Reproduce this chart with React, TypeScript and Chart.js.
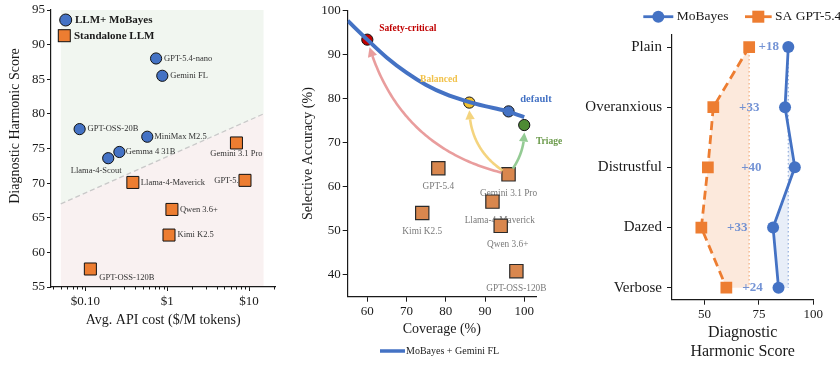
import React, { useEffect, useRef } from "react";
import { Chart, registerables } from "chart.js";

Chart.register(...registerables);

const SERIF = "'Liberation Serif', 'Times New Roman', Times, serif";
Chart.defaults.font.family = SERIF;
Chart.defaults.color = "#1a1a1a";

const BLUE = "#4472C4";
const ORANGE = "#ED7D31";
const INK = "#1a1a1a";

// ---------------- Panel 1 data: cost vs diagnostic harmonic score ----------------
const moModels = ["GPT-5.4-nano", "Gemini FL", "GPT-OSS-20B", "MiniMax M2.5", "Gemma 4 31B", "Llama-4-Scout"];
const moCost = [0.73, 0.87, 0.085, 0.57, 0.26, 0.19];
const moScore = [88.0, 85.5, 77.8, 76.7, 74.5, 73.6];

const saModels = ["Gemini 3.1 Pro", "GPT-5.4", "Llama-4-Maverick", "Qwen 3.6+", "Kimi K2.5", "GPT-OSS-120B"];
const saCost = [7.0, 8.9, 0.38, 1.14, 1.05, 0.115];
const saScore = [75.8, 70.4, 70.1, 66.2, 62.5, 57.6];

const costTicks = [0.1, 1, 10];
const costTickLabels = ["$0.10", "$1", "$10"];
const costMinorTicks = [0.04, 0.05, 0.06, 0.07, 0.08, 0.09, 0.2, 0.3, 0.4, 0.5, 0.6, 0.7, 0.8, 0.9, 2, 3, 4, 5, 6, 7, 8, 9, 20];
const scoreTicks1 = [55, 60, 65, 70, 75, 80, 85, 90, 95];
const frontierCost = [0.05, 15];
const frontierScore = [67, 80];

// label placement (layout only): dx, dy, align
const moLabelPos: [number, number, CanvasTextAlign][] = [
  [8, 0, "left"], [8, 0, "left"], [8, 0, "left"], [7, 0, "left"], [6.5, 0, "left"], [-12, 13, "center"],
];
const saLabelPos: [number, number, CanvasTextAlign][] = [
  [0, 11, "center"], [-2, 0, "right"], [8, 0, "left"], [8, 0, "left"], [8.5, 0, "left"], [9, 9, "left"],
];

// ---------------- Panel 2 data: coverage vs selective accuracy ----------------
const curveCoverage = [55, 60, 65, 70, 75, 80, 85, 90, 95, 100];
const curveAccuracy = [97.7, 93.4, 89.3, 85.9, 83.1, 81.0, 79.5, 78.3, 77.3, 75.8];

const opNames = ["Safety-critical", "Balanced", "default", "Triage"];
const opCoverage = [60, 86, 96, 100];
const opAccuracy = [93.4, 79.1, 77.1, 74.0];
const opColors = ["#C00000", "#F2C12E", "#4472C4", "#4E8B34"];
const opTextColors = ["#C00000", "#F2C24A", "#4472C4", "#6A9A4A"];
const opLabelPos: [number, number, CanvasTextAlign][] = [
  [12, -11.6, "left"], [-30.5, -23.3, "center"], [11.7, -11.7, "left"], [11.7, 16.7, "left"],
];

const sa2Models = ["GPT-5.4", "Gemini 3.1 Pro", "Llama-4-Maverick", "Kimi K2.5", "Qwen 3.6+", "GPT-OSS-120B"];
const sa2Coverage = [78.1, 96.0, 91.9, 74.0, 94.0, 98.0];
const sa2Accuracy = [64.2, 62.8, 56.6, 54.0, 51.1, 40.8];
const sa2LabelPos: [number, number][] = [[0, 18], [0, 19], [7.3, 19], [0, 18.4], [7, 18.3], [0, 17.3]];

const covTicks = [60, 70, 80, 90, 100];
const accTicks = [40, 50, 60, 70, 80, 90, 100];
// arrows from the standalone Gemini 3.1 Pro to each operating point (except default)
const arrowTargets = [0, 1, 3];
const arrowColors = ["rgba(232,152,152,0.95)", "rgba(243,210,120,0.95)", "rgba(142,200,142,0.95)"];
const arrowRad = [0.3, 0.3, -0.2];

// ---------------- Panel 3 data: persona robustness ----------------
const personas = ["Plain", "Overanxious", "Distrustful", "Dazed", "Verbose"];
const moPersona = [88.5, 87.0, 91.5, 81.5, 84.0];
const saPersona = [70.5, 54.0, 51.5, 48.5, 60.0];
const gainLabels = ["+18", "+33", "+40", "+33", "+24"];
const harmTicks = [50, 75, 100];

// ---------------- helpers ----------------
function font(size: number, weight = "normal") {
  return `${weight} ${size}px ${SERIF}`;
}

const panel1Plugin = {
  id: "panel1",
  beforeDraw(chart: any) {
    const { ctx, scales } = chart;
    const x = scales.x, y = scales.y;
    const x0 = x.getPixelForValue(frontierCost[0]);
    const x1 = x.getPixelForValue(frontierCost[1]);
    const yTop = y.getPixelForValue(95);
    const yBot = y.getPixelForValue(55);
    const ya = y.getPixelForValue(frontierScore[0]);
    const yb = y.getPixelForValue(frontierScore[1]);
    ctx.save();
    ctx.fillStyle = "#f1f6f0";
    ctx.beginPath();
    ctx.moveTo(x0, yTop); ctx.lineTo(x1, yTop); ctx.lineTo(x1, yb); ctx.lineTo(x0, ya); ctx.closePath();
    ctx.fill();
    ctx.fillStyle = "#f9f1f1";
    ctx.beginPath();
    ctx.moveTo(x0, ya); ctx.lineTo(x1, yb); ctx.lineTo(x1, yBot); ctx.lineTo(x0, yBot); ctx.closePath();
    ctx.fill();
    ctx.setLineDash([5, 3]);
    ctx.strokeStyle = "#c9c9c9";
    ctx.lineWidth = 1.3;
    ctx.beginPath();
    ctx.moveTo(x0, ya); ctx.lineTo(x1, yb);
    ctx.stroke();
    ctx.restore();
  },
  beforeDatasetsDraw(chart: any) {
    const { ctx, scales } = chart;
    const x = scales.x, y = scales.y;
    ctx.save();
    ctx.font = font(8.5);
    ctx.fillStyle = "#333";
    ctx.textBaseline = "middle";
    moModels.forEach((name, i) => {
      const [dx, dy, al] = moLabelPos[i];
      ctx.textAlign = al;
      ctx.fillText(name, x.getPixelForValue(moCost[i]) + dx, y.getPixelForValue(moScore[i]) + dy);
    });
    saModels.forEach((name, i) => {
      const [dx, dy, al] = saLabelPos[i];
      ctx.textAlign = al;
      ctx.fillText(name, x.getPixelForValue(saCost[i]) + dx, y.getPixelForValue(saScore[i]) + dy);
    });
    ctx.restore();
  },
  afterDraw(chart: any) {
    const { ctx, scales, chartArea } = chart;
    const x = scales.x;
    ctx.save();
    // minor ticks of the log axis
    ctx.strokeStyle = INK;
    ctx.lineWidth = 1;
    costMinorTicks.forEach((v) => {
      const px = Math.round(x.getPixelForValue(v)) + 0.5;
      ctx.beginPath();
      ctx.moveTo(px, chartArea.bottom);
      ctx.lineTo(px, chartArea.bottom + 2.5);
      ctx.stroke();
    });
    // legend
    ctx.fillStyle = BLUE;
    ctx.strokeStyle = "#111";
    ctx.beginPath();
    ctx.arc(65.7, 20, 6, 0, Math.PI * 2);
    ctx.fill();
    ctx.stroke();
    ctx.fillStyle = ORANGE;
    ctx.fillRect(58.3, 29.7, 12, 12);
    ctx.strokeRect(58.3, 29.7, 12, 12);
    ctx.fillStyle = INK;
    ctx.font = font(11, "bold");
    ctx.textAlign = "left";
    ctx.textBaseline = "middle";
    ctx.fillText("LLM+ MoBayes", 75, 20);
    ctx.fillText("Standalone LLM", 74, 35.7);
    // y title
    ctx.translate(15, 126);
    ctx.rotate(-Math.PI / 2);
    ctx.font = font(14);
    ctx.textAlign = "center";
    ctx.fillText("Diagnostic Harmonic Score", 0, 0);
    ctx.restore();
  },
};

function drawCurvedArrow(ctx: CanvasRenderingContext2D, sx: number, sy: number, ex: number, ey: number,
  rad: number, color: string, shrinkA: number, shrinkB: number) {
  const mx = (sx + ex) / 2, my = (sy + ey) / 2;
  const dx = ex - sx, dy = ey - sy;
  const cx = mx + rad * dy, cy = my - rad * dx;
  const B = (t: number) => {
    const u = 1 - t;
    return [u * u * sx + 2 * u * t * cx + t * t * ex, u * u * sy + 2 * u * t * cy + t * t * ey];
  };
  const N = 400;
  let t0 = 0, t1 = 1;
  for (let i = 0; i <= N; i++) {
    const t = i / N; const [px, py] = B(t);
    if (Math.hypot(px - sx, py - sy) >= shrinkA) { t0 = t; break; }
  }
  for (let i = N; i >= 0; i--) {
    const t = i / N; const [px, py] = B(t);
    if (Math.hypot(px - ex, py - ey) >= shrinkB) { t1 = t; break; }
  }
  const [tipX, tipY] = B(t1);
  const headLen = 9, headHalf = 4.6;
  // find t where distance from tip equals head length
  let tb = t1;
  for (let i = Math.round(t1 * N); i >= 0; i--) {
    const t = i / N; const [px, py] = B(t);
    if (Math.hypot(px - tipX, py - tipY) >= headLen) { tb = t; break; }
  }
  const [bx, by] = B(tb);
  ctx.save();
  ctx.strokeStyle = color;
  ctx.fillStyle = color;
  ctx.lineWidth = 2.6;
  ctx.lineCap = "butt";
  ctx.beginPath();
  for (let i = 0; i <= 80; i++) {
    const t = t0 + (tb - t0) * (i / 80);
    const [px, py] = B(t);
    if (i === 0) ctx.moveTo(px, py); else ctx.lineTo(px, py);
  }
  ctx.stroke();
  const ux = (tipX - bx) / headLen, uy = (tipY - by) / headLen;
  ctx.beginPath();
  ctx.moveTo(tipX, tipY);
  ctx.lineTo(bx - uy * headHalf, by + ux * headHalf);
  ctx.lineTo(bx + uy * headHalf, by - ux * headHalf);
  ctx.closePath();
  ctx.fill();
  ctx.restore();
}

const panel2Plugin = {
  id: "panel2",
  beforeDatasetsDraw(chart: any) {
    const { ctx, scales } = chart;
    const x = scales.x, y = scales.y;
    ctx.save();
    ctx.font = font(9.3);
    ctx.fillStyle = "#7a7a7a";
    ctx.textAlign = "center";
    ctx.textBaseline = "middle";
    sa2Models.forEach((name, i) => {
      const [dx, dy] = sa2LabelPos[i];
      ctx.fillText(name, x.getPixelForValue(sa2Coverage[i]) + dx, y.getPixelForValue(sa2Accuracy[i]) + dy);
    });
    ctx.restore();
  },
  afterDatasetDraw(chart: any, args: any) {
    if (args.index !== 0) return;
    const { ctx, scales } = chart;
    const x = scales.x, y = scales.y;
    const src = sa2Models.indexOf("Gemini 3.1 Pro");
    const sx = x.getPixelForValue(sa2Coverage[src]);
    const sy = y.getPixelForValue(sa2Accuracy[src]);
    arrowTargets.forEach((k, j) => {
      const ex = x.getPixelForValue(opCoverage[k]);
      const ey = y.getPixelForValue(opAccuracy[k]);
      drawCurvedArrow(ctx, sx, sy, ex, ey, arrowRad[j], arrowColors[j], 7, 7.5);
    });
  },
  afterDraw(chart: any) {
    const { ctx, scales } = chart;
    const x = scales.x, y = scales.y;
    ctx.save();
    ctx.textBaseline = "middle";
    opNames.forEach((name, i) => {
      const [dx, dy, al] = opLabelPos[i];
      ctx.font = font(i === 2 ? 10.5 : 9.5, "bold");
      ctx.fillStyle = opTextColors[i];
      ctx.textAlign = al;
      ctx.fillText(name, x.getPixelForValue(opCoverage[i]) + dx, y.getPixelForValue(opAccuracy[i]) + dy);
    });
    // legend
    ctx.strokeStyle = BLUE;
    ctx.lineWidth = 3.5;
    ctx.beginPath();
    ctx.moveTo(95, 351);
    ctx.lineTo(120, 351);
    ctx.stroke();
    ctx.fillStyle = INK;
    ctx.font = font(10);
    ctx.textAlign = "left";
    ctx.fillText("MoBayes + Gemini FL", 121, 351);
    ctx.restore();
  },
};

const panel3Plugin = {
  id: "panel3",
  beforeDatasetsDraw(chart: any) {
    const { ctx, scales } = chart;
    const x = scales.x, y = scales.y;
    const fillBetween = (vals: number[], base: number, color: string) => {
      ctx.beginPath();
      vals.forEach((v, i) => {
        const px = x.getPixelForValue(v), py = y.getPixelForValue(i);
        if (i === 0) ctx.moveTo(px, py); else ctx.lineTo(px, py);
      });
      ctx.lineTo(x.getPixelForValue(base), y.getPixelForValue(vals.length - 1));
      ctx.lineTo(x.getPixelForValue(base), y.getPixelForValue(0));
      ctx.closePath();
      ctx.fillStyle = color;
      ctx.fill();
    };
    const dotted = (base: number, color: string) => {
      const px = x.getPixelForValue(base);
      ctx.beginPath();
      ctx.setLineDash([1.5, 2.5]);
      ctx.strokeStyle = color;
      ctx.lineWidth = 1.3;
      ctx.moveTo(px, y.getPixelForValue(0));
      ctx.lineTo(px, y.getPixelForValue(personas.length - 1));
      ctx.stroke();
      ctx.setLineDash([]);
    };
    ctx.save();
    fillBetween(saPersona, saPersona[0], "rgba(237,125,49,0.17)");
    fillBetween(moPersona, moPersona[0], "rgba(68,114,196,0.12)");
    dotted(saPersona[0], "rgba(237,125,49,0.55)");
    dotted(moPersona[0], "rgba(68,114,196,0.5)");
    ctx.restore();
  },
  afterDatasetsDraw(chart: any) {
    const { ctx, scales } = chart;
    const x = scales.x, y = scales.y;
    ctx.save();
    ctx.font = font(13, "bold");
    ctx.fillStyle = "rgba(100,135,208,0.9)";
    ctx.textAlign = "center";
    ctx.textBaseline = "middle";
    gainLabels.forEach((g, i) => {
      const mid = (moPersona[i] + saPersona[i]) / 2;
      ctx.fillText(g, x.getPixelForValue(mid), y.getPixelForValue(i));
    });
    ctx.restore();
  },
  afterDraw(chart: any) {
    const { ctx } = chart;
    ctx.save();
    ctx.lineWidth = 2.8;
    ctx.strokeStyle = BLUE;
    ctx.beginPath(); ctx.moveTo(68.3, 16.7); ctx.lineTo(98.3, 16.7); ctx.stroke();
    ctx.fillStyle = BLUE;
    ctx.beginPath(); ctx.arc(83.3, 16.7, 6, 0, Math.PI * 2); ctx.fill();
    ctx.strokeStyle = ORANGE;
    ctx.beginPath(); ctx.moveTo(170, 16.7); ctx.lineTo(196.7, 16.7); ctx.stroke();
    ctx.fillStyle = ORANGE;
    ctx.fillRect(183.3 - 6, 16.7 - 6, 12, 12);
    ctx.fillStyle = INK;
    ctx.font = font(13.5);
    ctx.textAlign = "left";
    ctx.textBaseline = "middle";
    ctx.fillText("MoBayes", 101.7, 16.7);
    ctx.fillText("SA GPT-5.4", 200, 16.7);
    ctx.restore();
  },
};

const axisGrid = (tl: number) => ({
  display: true, drawOnChartArea: false, drawTicks: true, tickLength: tl, color: INK, tickWidth: 1,
});
const axisBorder = { display: true, color: INK, width: 1.2 };

function makePanel1(): any {
  return {
    type: "scatter",
    data: {
      datasets: [
        {
          label: "LLM+ MoBayes",
          data: moCost.map((c, i) => ({ x: c, y: moScore[i] })),
          pointStyle: "circle", pointRadius: 5.6, pointBackgroundColor: BLUE,
          pointBorderColor: "#111", pointBorderWidth: 1,
        },
        {
          label: "Standalone LLM",
          data: saCost.map((c, i) => ({ x: c, y: saScore[i] })),
          pointStyle: "rect", pointRadius: 8.5, pointBackgroundColor: ORANGE,
          pointBorderColor: "#111", pointBorderWidth: 1,
        },
      ],
    },
    options: {
      responsive: false, animation: false,
      layout: { padding: { left: 0, top: 10, right: 6, bottom: 0 } },
      plugins: { legend: { display: false }, tooltip: { enabled: false } },
      scales: {
        x: {
          type: "logarithmic", min: 0.038, max: 21,
          afterFit: (s: any) => { s.height = 78; },
          afterBuildTicks: (s: any) => { s.ticks = costTicks.map((v) => ({ value: v, major: true })); },
          ticks: { callback: (_v: any, i: number) => costTickLabels[i], font: { size: 13 }, color: INK, padding: 3, maxRotation: 0, autoSkip: false },
          grid: axisGrid(4), border: axisBorder,
          title: { display: true, text: "Avg. API cost ($/M tokens)", font: { size: 14 }, color: INK, padding: { top: 0, bottom: 36.6 } },
        },
        y: {
          type: "linear", min: 55, max: 95,
          afterFit: (s: any) => { s.width = 51; },
          afterBuildTicks: (s: any) => { s.ticks = scoreTicks1.map((v) => ({ value: v })); },
          ticks: { font: { size: 13 }, color: INK, padding: 2 },
          grid: axisGrid(4), border: axisBorder,
        },
      },
    },
    plugins: [panel1Plugin],
  };
}

function makePanel2(): any {
  return {
    type: "scatter",
    data: {
      datasets: [
        {
          label: "MoBayes + Gemini FL",
          data: curveCoverage.map((c, i) => ({ x: c, y: curveAccuracy[i] })),
          showLine: true, borderColor: BLUE, borderWidth: 4, pointRadius: 0,
          cubicInterpolationMode: "monotone", fill: false,
        },
        {
          label: "Standalone",
          data: sa2Coverage.map((c, i) => ({ x: c, y: sa2Accuracy[i] })),
          pointStyle: "rect", pointRadius: 9.4, pointBackgroundColor: "rgb(217,135,78)",
          pointBorderColor: "#2a2a2a", pointBorderWidth: 1.2,
        },
        {
          label: "Operating points",
          data: opCoverage.map((c, i) => ({ x: c, y: opAccuracy[i] })),
          pointStyle: "circle", pointRadius: 5.6, pointBackgroundColor: opColors,
          pointBorderColor: "#111", pointBorderWidth: 1,
        },
      ],
    },
    options: {
      responsive: false, animation: false,
      layout: { padding: { left: 0, top: 10, right: 39, bottom: 0 } },
      plugins: { legend: { display: false }, tooltip: { enabled: false } },
      scales: {
        x: {
          type: "linear", min: 55, max: 103,
          afterFit: (s: any) => { s.height = 68.3; },
          afterBuildTicks: (s: any) => { s.ticks = covTicks.map((v) => ({ value: v })); },
          ticks: { font: { size: 13 }, color: INK, padding: 2.2, maxRotation: 0 },
          grid: axisGrid(5), border: axisBorder,
          title: { display: true, text: "Coverage (%)", font: { size: 14 }, color: INK, padding: { top: 0, bottom: 27.6 } },
        },
        y: {
          type: "linear", min: 35, max: 100,
          afterFit: (s: any) => { s.width = 62.7; },
          afterBuildTicks: (s: any) => { s.ticks = accTicks.map((v) => ({ value: v })); },
          ticks: { font: { size: 13 }, color: INK, padding: 2 },
          grid: axisGrid(5), border: axisBorder,
          title: { display: true, text: "Selective Accuracy (%)", font: { size: 14 }, color: INK, padding: { top: 14.6, bottom: 0 } },
        },
      },
    },
    plugins: [panel2Plugin],
  };
}

function makePanel3(): any {
  return {
    type: "scatter",
    data: {
      datasets: [
        {
          label: "MoBayes",
          data: moPersona.map((v, i) => ({ x: v, y: i })),
          showLine: true, borderColor: BLUE, borderWidth: 2.8,
          pointStyle: "circle", pointRadius: 6, pointBackgroundColor: BLUE, pointBorderWidth: 0,
        },
        {
          label: "SA GPT-5.4",
          data: saPersona.map((v, i) => ({ x: v, y: i })),
          showLine: true, borderColor: ORANGE, borderWidth: 2.8, borderDash: [9, 5],
          pointStyle: "rect", pointRadius: 8.3, pointBackgroundColor: ORANGE, pointBorderWidth: 0,
        },
      ],
    },
    options: {
      responsive: false, animation: false,
      layout: { padding: { left: 0, top: 35, right: 26.7, bottom: 0 } },
      plugins: { legend: { display: false }, tooltip: { enabled: false } },
      scales: {
        x: {
          type: "linear", min: 35, max: 100,
          afterFit: (s: any) => { s.height = 65.3; },
          afterBuildTicks: (s: any) => { s.ticks = harmTicks.map((v) => ({ value: v })); },
          ticks: { font: { size: 13 }, color: INK, padding: 1.8, maxRotation: 0 },
          grid: axisGrid(5), border: axisBorder,
          title: { display: true, text: ["Diagnostic", "Harmonic Score"], font: { size: 16, lineHeight: 1.15 }, color: INK, padding: { top: 0, bottom: 4.4 } },
        },
        y: {
          type: "linear", min: -0.2, max: 4.2, reverse: true,
          afterFit: (s: any) => { s.width = 97; },
          afterBuildTicks: (s: any) => { s.ticks = personas.map((_p, i) => ({ value: i })); },
          ticks: { callback: (v: any) => personas[Math.round(Number(v))], font: { size: 15 }, color: INK, padding: 5 },
          grid: axisGrid(5), border: axisBorder,
        },
      },
    },
    plugins: [panel3Plugin],
  };
}

function ChartCanvas({ left, width, make }: { left: number; width: number; make: () => any }) {
  const ref = useRef<HTMLCanvasElement | null>(null);
  useEffect(() => {
    if (!ref.current) return;
    const chart = new Chart(ref.current, make());
    return () => chart.destroy();
  }, []);
  return (
    <canvas
      ref={ref}
      width={width}
      height={365}
      style={{ position: "absolute", left, top: 0, width, height: 365 }}
    />
  );
}

export default function App() {
  return (
    <div style={{ position: "absolute", left: 0, top: 0, width: 840, height: 365, background: "#fff", overflow: "hidden" }}>
      <ChartCanvas left={0} width={285} make={makePanel1} />
      <ChartCanvas left={285} width={290} make={makePanel2} />
      <ChartCanvas left={575} width={265} make={makePanel3} />
    </div>
  );
}
